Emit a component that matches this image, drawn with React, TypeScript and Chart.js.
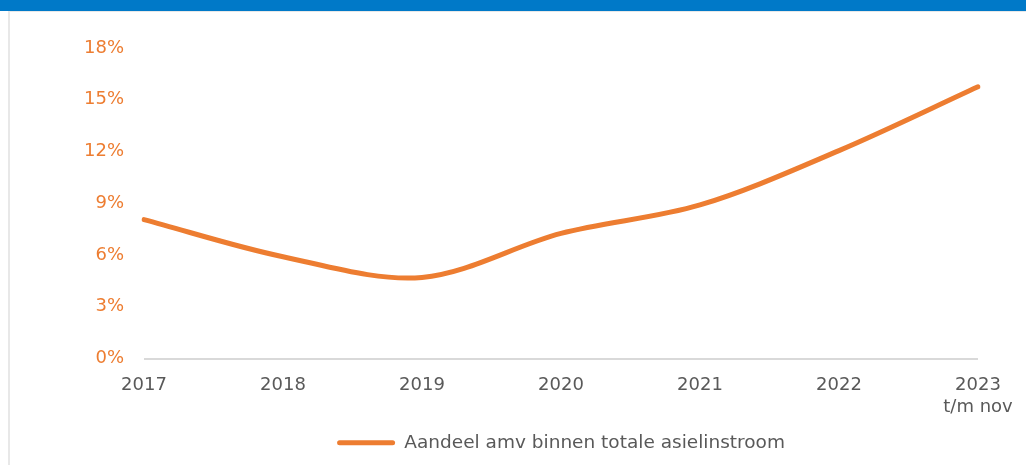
import React, { useEffect, useRef } from "react";
import { Chart, registerables } from "chart.js";

Chart.register(...registerables);

const categories: (string | string[])[] = ["2017", "2018", "2019", "2020", "2021", "2022", ["2023", "t/m nov"]];
const shareValues: number[] = [8.05, 5.9, 4.7, 7.25, 8.9, 12.05, 15.75];
const seriesLabel = "Aandeel amv binnen totale asielinstroom";
const yTicks: number[] = [0, 3, 6, 9, 12, 15, 18];

const ORANGE = "#ED7D31";
const GREY_TEXT = "#595959";
const FONT = "'DejaVu Sans', Verdana, sans-serif";

export default function App() {
  const canvasRef = useRef<HTMLCanvasElement | null>(null);

  useEffect(() => {
    if (!canvasRef.current) return;
    const chart = new Chart(canvasRef.current, {
      type: "line",
      data: {
        labels: categories,
        datasets: [
          {
            label: seriesLabel,
            data: shareValues,
            borderColor: ORANGE,
            backgroundColor: ORANGE,
            borderWidth: 5,
            pointRadius: 0,
            tension: 0.33,
            fill: false,
            borderCapStyle: "round",
          },
        ],
      },
      options: {
        responsive: false,
        animation: false,
        layout: { padding: { left: 0, right: 48, top: 48, bottom: 3 } },
        plugins: {
          tooltip: { enabled: false },
          legend: {
            position: "bottom",
            fullSize: false,
            labels: {
              font: { family: FONT, size: 18.5 },
              color: GREY_TEXT,
              boxWidth: 58,
              boxHeight: 5,
              padding: 6,
              useBorderRadius: true,
              borderRadius: 2.5,
              generateLabels: () => [
                {
                  text: seriesLabel,
                  fillStyle: ORANGE,
                  strokeStyle: ORANGE,
                  fontColor: GREY_TEXT,
                  lineWidth: 0,
                  borderRadius: 2.5,
                  hidden: false,
                  datasetIndex: 0,
                },
              ],
            },
          },
        },
        scales: {
          x: {
            offset: false,
            grid: { display: false },
            border: { display: false },
            ticks: {
              color: GREY_TEXT,
              font: { family: FONT, size: 18 },
              padding: 8,
              maxRotation: 0,
              autoSkip: false,
            },
            afterFit: (s: any) => {
              s.height = 69;
            },
          },
          y: {
            min: 0,
            max: 18,
            afterBuildTicks: (s: any) => {
              s.ticks = yTicks.map((v) => ({ value: v }));
            },
            grid: {
              drawTicks: false,
              color: (ctx: any) => (ctx.tick && ctx.tick.value === 0 ? "#D9D9D9" : "rgba(0,0,0,0)"),
              lineWidth: 2,
            },
            border: { display: false },
            ticks: {
              color: ORANGE,
              font: { family: FONT, size: 18 },
              padding: 20,
              callback: (v: any) => `${v}%`,
            },
            afterFit: (s: any) => {
              s.width = 144;
            },
          },
        },
      },
    } as any);
    return () => chart.destroy();
  }, []);

  return (
    <div
      style={{
        position: "absolute",
        left: 0,
        top: 0,
        width: 1026,
        height: 465,
        background: "#ffffff",
        overflow: "hidden",
      }}
    >
      <div style={{ position: "absolute", left: 0, top: 0, width: 1026, height: 11, background: "#0079C8" }} />
      <div
        style={{
          position: "absolute",
          left: 8,
          top: 11,
          right: 0,
          bottom: 0,
          borderLeft: "2px solid #E8E8E8",
          borderTop: "1px solid #E8E8E8",
        }}
      />
      <canvas ref={canvasRef} width={1026} height={465} style={{ position: "absolute", left: 0, top: 0 }} />
    </div>
  );
}
